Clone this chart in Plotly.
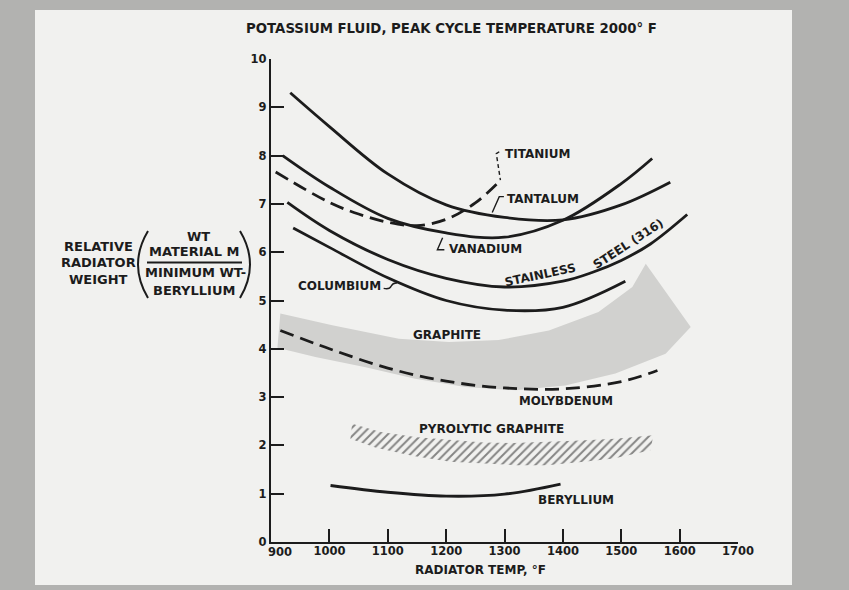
import plotly.graph_objects as go

# ---------------- data ----------------
tantalum_x = [933, 1000, 1100, 1200, 1300, 1400, 1500, 1584]
tantalum_y = [9.30, 8.60, 7.62, 6.98, 6.72, 6.67, 6.98, 7.45]

vanadium_x = [920, 1000, 1100, 1200, 1300, 1400, 1500, 1553]
vanadium_y = [8.00, 7.35, 6.70, 6.40, 6.31, 6.66, 7.42, 7.94]

titanium_x = [908, 1000, 1050, 1100, 1150, 1200, 1250, 1293]
titanium_y = [7.66, 7.03, 6.79, 6.62, 6.55, 6.68, 7.02, 7.49]

steel_x = [928, 1000, 1100, 1200, 1300, 1400, 1450, 1500, 1550, 1613]
steel_y = [7.03, 6.45, 5.85, 5.46, 5.28, 5.40, 5.58, 5.83, 6.17, 6.78]

columbium_x = [938, 1000, 1100, 1200, 1300, 1400, 1507]
columbium_y = [6.50, 6.10, 5.47, 5.00, 4.80, 4.86, 5.40]

molybdenum_x = [916, 1000, 1100, 1200, 1300, 1400, 1500, 1562]
molybdenum_y = [4.38, 4.00, 3.60, 3.33, 3.19, 3.17, 3.32, 3.55]

beryllium_x = [1002, 1100, 1200, 1300, 1396]
beryllium_y = [1.17, 1.03, 0.95, 0.99, 1.20]

graphite_x = [916, 1005, 1119, 1205, 1290, 1376, 1461, 1519, 1542, 1619,
              1576, 1490, 1404, 1319, 1233, 1147, 1062, 976, 911, 916]
graphite_y = [4.73, 4.49, 4.21, 4.14, 4.18, 4.38, 4.76, 5.28, 5.76, 4.45,
              3.90, 3.49, 3.24, 3.14, 3.21, 3.38, 3.62, 3.83, 4.02, 4.73]

pyro_x = [1039, 1088, 1150, 1202, 1264, 1316, 1379, 1430, 1490, 1544, 1555,
          1550, 1487, 1436, 1373, 1322, 1259, 1207, 1144, 1080, 1036, 1039]
pyro_y = [2.45, 2.28, 2.17, 2.12, 2.06, 2.05, 2.07, 2.10, 2.14, 2.21, 2.21,
          1.90, 1.73, 1.66, 1.59, 1.59, 1.62, 1.66, 1.78, 1.95, 2.14, 2.45]

x_tick_vals = [900, 1000, 1100, 1200, 1300, 1400, 1500, 1600, 1700]
x_tick_text = ["", "1000", "1100", "1200", "1300", "1400", "1500", "1600", "1700"]
y_tick_vals = [0, 1, 2, 3, 4, 5, 6, 7, 8, 9, 10]
y_tick_text = ["0", "1", "2", "3", "4", "5", "6", "7", "8", "9", "10"]

title_text = "POTASSIUM FLUID, PEAK CYCLE TEMPERATURE 2000° F"
x_title = "RADIATOR TEMP, °F"

# ---------------- styling ----------------
INK = "#1c1c1c"
FONT = "DejaVu Sans"
W, H = 849, 590
ML, MR, MT, MB = 271, 111, 59, 48
PW, PH = W - ML - MR, H - MT - MB


def xp(px):
    return (px - ML) / PW


def yp(py):
    return (H - MB - py) / PH


fig = go.Figure()

# graphite band (stippled grey)
fig.add_trace(go.Scatter(x=graphite_x, y=graphite_y, mode="lines", fill="toself",
                         fillcolor="#d1d1cf", line=dict(width=0, color="#d1d1cf"),
                         hoverinfo="skip", showlegend=False))
# pyrolytic graphite band (hatched)
fig.add_trace(go.Scatter(x=pyro_x, y=pyro_y, mode="lines", fill="toself",
                         fillcolor="rgba(0,0,0,0)",
                         fillpattern=dict(shape="/", fgcolor="#1a1a1a", bgcolor="rgba(0,0,0,0)",
                                          size=6, solidity=0.33),
                         line=dict(width=0, color="rgba(0,0,0,0)"),
                         hoverinfo="skip", showlegend=False))

solid = [(tantalum_x, tantalum_y), (vanadium_x, vanadium_y), (steel_x, steel_y),
         (columbium_x, columbium_y), (beryllium_x, beryllium_y)]
for xs, ys in solid:
    fig.add_trace(go.Scatter(x=xs, y=ys, mode="lines",
                             line=dict(color=INK, width=2.8, shape="spline", smoothing=1.0),
                             hoverinfo="skip", showlegend=False))
for xs, ys in [(titanium_x, titanium_y), (molybdenum_x, molybdenum_y)]:
    fig.add_trace(go.Scatter(x=xs, y=ys, mode="lines",
                             line=dict(color=INK, width=2.8, shape="spline", smoothing=1.0,
                                       dash="14px,7px"),
                             hoverinfo="skip", showlegend=False))

shapes = []
# inner light page
shapes.append(dict(type="rect", xref="paper", yref="paper", x0=xp(35), x1=xp(792),
                   y0=yp(585), y1=yp(10), fillcolor="#f1f1ef", line=dict(width=0),
                   layer="below"))
# leader lines
leader = dict(color=INK, width=1.4)
shapes.append(dict(type="path", xref="x", yref="y",
                   path="M 1291,8.08 L 1286,8.04 L 1293,7.49",
                   line=dict(color=INK, width=1.4, dash="4px,3px")))
shapes.append(dict(type="path", xref="x", yref="y",
                   path="M 1299,7.15 L 1291,7.15 L 1279,6.82", line=leader))
shapes.append(dict(type="path", xref="x", yref="y",
                   path="M 1197,6.05 L 1185,6.05 L 1194,6.30", line=leader))
shapes.append(dict(type="path", xref="x", yref="y",
                   path="M 1093,5.25 Q 1103,5.22 1106,5.30 Q 1109,5.37 1116,5.36", line=leader))
# y-label fraction bar and parentheses
shapes.append(dict(type="line", xref="paper", yref="paper", x0=xp(147), x1=xp(242),
                   y0=yp(262.5), y1=yp(262.5), line=dict(color=INK, width=2)))
shapes.append(dict(type="path", xref="paper", yref="paper",
                   path=f"M {xp(148)},{yp(231)} Q {xp(128)},{yp(264.5)} {xp(148)},{yp(298)}",
                   line=dict(color=INK, width=2)))
shapes.append(dict(type="path", xref="paper", yref="paper",
                   path=f"M {xp(240)},{yp(231)} Q {xp(260)},{yp(264.5)} {xp(240)},{yp(298)}",
                   line=dict(color=INK, width=2)))

ann = []


def label(text, x, y, size=12, xanchor="center", angle=0, ref="data"):
    d = dict(text=text, x=x, y=y, showarrow=False, xanchor=xanchor, yanchor="middle",
             textangle=angle,
             font=dict(family=FONT, size=size, color=INK, weight="bold"))
    if ref == "data":
        d.update(xref="x", yref="y")
    else:
        d.update(xref="paper", yref="paper")
    ann.append(d)


label("TITANIUM", 1298, 8.03, xanchor="left")
label("TANTALUM", 1301, 7.10, xanchor="left")
label("VANADIUM", 1201, 6.06, xanchor="left")
label("STAINLESS", 1361, 5.53, angle=-12)
label("STEEL (316)", 1512, 6.16, angle=-33)
label("COLUMBIUM", 1092, 5.29, xanchor="right")
label("GRAPHITE", 1201, 4.28)
label("MOLYBDENUM", 1406, 2.91, size=11.8)
label("PYROLYTIC GRAPHITE", 1277, 2.33)
label("BERYLLIUM", 1423, 0.88)

label(title_text, xp(451), yp(28), size=13.3, ref="paper")
label(x_title, xp(480), yp(570), size=12, ref="paper")
label("900", xp(280), yp(552), size=11.5, ref="paper")
label("RELATIVE", xp(98), yp(246), size=13, ref="paper")
label("RADIATOR", xp(98), yp(262.5), size=13, ref="paper")
label("WEIGHT", xp(98), yp(279), size=13, ref="paper")
label("WT", xp(198), yp(237), size=13, ref="paper")
label("MATERIAL M", xp(194), yp(251.5), size=13, ref="paper")
label("MINIMUM WT-", xp(195), yp(272.5), size=13, ref="paper")
label("BERYLLIUM", xp(194), yp(290), size=13, ref="paper")

axis_common = dict(showline=True, linecolor=INK, linewidth=2.4, ticks="inside",
                   tickcolor=INK, tickwidth=2, ticklen=13, showgrid=False, zeroline=False,
                   tickfont=dict(family=FONT, size=11.5, color=INK, weight="bold"))

fig.update_layout(
    width=W, height=H,
    margin=dict(l=ML, r=MR, t=MT, b=MB, pad=0),
    paper_bgcolor="#b2b2b0",
    plot_bgcolor="rgba(0,0,0,0)",
    showlegend=False,
    xaxis=dict(range=[900, 1700], tickmode="array", tickvals=x_tick_vals,
               ticktext=x_tick_text, ticklabelstandoff=-3, **axis_common),
    yaxis=dict(range=[0, 10], tickmode="array", tickvals=y_tick_vals,
               ticktext=y_tick_text, **axis_common),
    shapes=shapes,
    annotations=ann,
)

fig.write_html("out.html", config={"displayModeBar": False},
               post_script="document.body.style.margin='0';document.body.style.padding='0';")
